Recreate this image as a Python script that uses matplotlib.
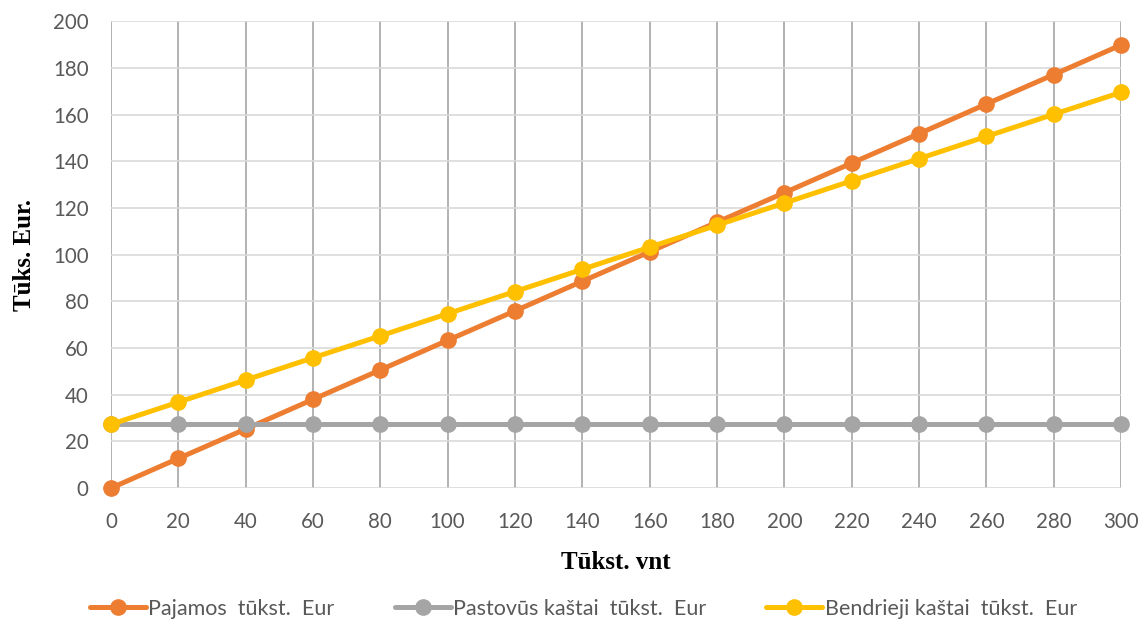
import matplotlib
matplotlib.use("Agg")
import matplotlib.pyplot as plt

x = [0, 20, 40, 60, 80, 100, 120, 140, 160, 180, 200, 220, 240, 260, 280, 300]
pajamos = [0, 12.7, 25.3, 38.0, 50.6, 63.3, 75.9, 88.6, 101.2, 113.9, 126.5,
           139.2, 151.8, 164.5, 177.1, 189.8]
pastovus = [27.3] * 16
bendrieji = [27.3, 36.8, 46.3, 55.8, 65.2, 74.7, 84.2, 93.7, 103.2, 112.6,
             122.1, 131.6, 141.1, 150.6, 160.1, 169.5]

labels = ["Pajamos  tūkst.  Eur", "Pastovūs kaštai  tūkst.  Eur",
          "Bendrieji kaštai  tūkst.  Eur"]
colors = ["#ed7d31", "#a5a5a5", "#ffc000"]

plt.rcParams['font.family'] = ['Lato', 'DejaVu Sans']

fig = plt.figure(figsize=(11.44, 6.21), dpi=100)
ax = fig.add_axes([0.097, 0.214, 0.883, 0.752])

for y, lab, c in zip([pajamos, pastovus, bendrieji], labels, colors):
    ax.plot(x, y, color=c, lw=3.6, marker='o', ms=11, label=lab,
            solid_capstyle='round', clip_on=False, zorder=3)

ax.set_xlim(0, 300)
ax.set_ylim(0, 200)
ax.set_xticks(x)
ax.set_yticks(range(0, 201, 20))
ax.grid(axis='y', color='#d9d9d9', lw=1.2)
ax.grid(axis='x', color='#a6a6a6', lw=1.2)
ax.set_axisbelow(True)
for s in ax.spines.values():
    s.set_visible(False)
ax.tick_params(length=0, labelsize=14.8, labelcolor='#595959')
ax.tick_params(axis='y', pad=16)
ax.tick_params(axis='x', pad=17)

ax.set_xlabel('Tūkst. vnt', family='Liberation Serif', fontweight='bold',
              fontsize=18, labelpad=14)
ax.set_ylabel('Tūks. Eur.', family='Liberation Serif', fontweight='bold',
              fontsize=18, labelpad=12)

leg = fig.legend(loc='lower center', bbox_to_anchor=(0.51, -0.028), ncol=3,
                 frameon=False, fontsize=15.5, handlelength=2.6,
                 columnspacing=2.8, handletextpad=0.1)
for t in leg.get_texts():
    t.set_color('#595959')

fig.savefig('out.png', dpi=100)
